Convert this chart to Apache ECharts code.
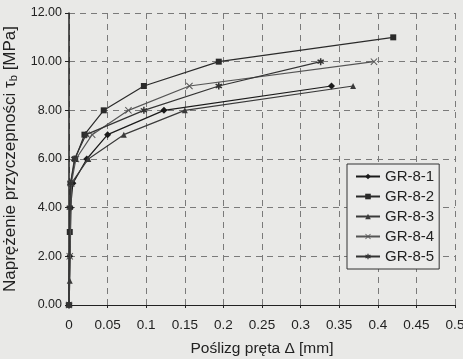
<!DOCTYPE html>
<html><head><meta charset="utf-8">
<script src="https://cdn.jsdelivr.net/npm/echarts@6/dist/echarts.min.js"></script>
<style>html,body{margin:0;padding:0;background:#e8e8e6;}#c{width:463px;height:359px;}</style>
</head><body><div id="c"></div>
<script>
const seriesNames = ['GR-8-1','GR-8-2','GR-8-3','GR-8-4','GR-8-5'];
const gr81 = [[0,0],[0.001,2],[0.002,4],[0.005,5],[0.023,6],[0.05,7],[0.123,8],[0.34,9]];
const gr82 = [[0,0],[0.001,3],[0.002,5],[0.008,6],[0.02,7],[0.045,8],[0.097,9],[0.194,10],[0.42,11]];
const gr83 = [[0,0],[0.001,1],[0.003,5],[0.025,6],[0.071,7],[0.15,8],[0.368,9]];
const gr84 = [[0,0],[0.001,2],[0.003,5],[0.009,6],[0.03,7],[0.077,8],[0.156,9],[0.395,10]];
const gr85 = [[0,0],[0.001,4],[0.002,5],[0.007,6],[0.022,7],[0.097,8],[0.194,9],[0.326,10]];
const xTicks = ['0','0.05','0.1','0.15','0.2','0.25','0.3','0.35','0.4','0.45','0.5'];
const yTicks = ['0.00','2.00','4.00','6.00','8.00','10.00','12.00'];

const X_PATH = 'path://M0,1 L1,0 L5,4 L9,0 L10,1 L6,5 L10,9 L9,10 L5,6 L1,10 L0,9 L4,5 Z';
const STAR_PATH = 'path://M4,0 L6,0 L6,3 L8.6,1.5 L9.6,3.2 L7,5 L9.6,6.8 L8.6,8.5 L6,7 L6,10 L4,10 L4,7 L1.4,8.5 L0.4,6.8 L3,5 L0.4,3.2 L1.4,1.5 L4,3 Z';
const symbols = ['diamond','rect','triangle',X_PATH,STAR_PATH];
const sizes = [7,6,6,7,7];
const colors = ['#1a1a1a','#2a2a2a','#3a3a3a','#555','#333'];
const datasets = [gr81,gr82,gr83,gr84,gr85];
const FONT = 'Liberation Sans, Arial';

const chart = echarts.init(document.getElementById('c'), null, {renderer:'canvas'});
const gridDash = {type:[6,5], color:'#7a7a7a', width:1};
chart.setOption({
  backgroundColor:'#e9e9e7',
  animation:false,
  grid:{left:69, top:13, right:8, bottom:54, containLabel:false, outerBoundsMode:'none'},
  xAxis:{
    type:'value', min:0, max:0.5, interval:0.05,
    axisLine:{show:true, onZero:false, lineStyle:{color:'#222', width:1}},
    axisTick:{show:true, length:3, lineStyle:{color:'#222'}},
    splitLine:{show:true, lineStyle:gridDash},
    axisLabel:{color:'#222', fontFamily:FONT, fontSize:13.5, margin:13,
      formatter:(v)=>{const i=Math.round(v/0.05); return xTicks[i]!==undefined?xTicks[i]:'';}},
    name:'Poślizg pręta Δ [mm]', nameLocation:'middle', nameGap:36,
    nameTextStyle:{color:'#222', fontFamily:FONT, fontSize:15.5}
  },
  yAxis:{
    type:'value', min:0, max:12, interval:2,
    axisLine:{show:true, lineStyle:{color:'#222', width:1.5}},
    axisTick:{show:true, length:4, lineStyle:{color:'#222'}},
    splitLine:{show:true, lineStyle:gridDash},
    axisLabel:{color:'#222', fontFamily:FONT, fontSize:12.5, margin:7,
      formatter:(v)=>{const i=Math.round(v/2); return yTicks[i]!==undefined?yTicks[i]:'';}},
    name:'Naprężenie przyczepności τ{s|b} [MPa]', nameLocation:'middle', nameGap:50,
    nameTextStyle:{color:'#222', fontFamily:FONT, fontSize:17,
      rich:{s:{fontSize:11, verticalAlign:'bottom', padding:[7,0,0,0], fontFamily:FONT, color:'#222'}}}
  },
  legend:{
    orient:'vertical', left:347, top:164,
    itemGap:5, itemWidth:24, itemHeight:7,
    backgroundColor:'#ebebea', borderColor:'#333', borderWidth:1,
    padding:[5,5,5,8],
    textStyle:{color:'#222', fontFamily:FONT, fontSize:15},
    data:seriesNames
  },
  series: datasets.map((d,i)=>({
    name:seriesNames[i], type:'line', data:d,
    symbol:symbols[i], symbolSize:sizes[i], showSymbol:true,
    lineStyle:{color:colors[i], width:1.2},
    itemStyle:{color:colors[i]},
    z:2+i
  }))
});
</script></body></html>
